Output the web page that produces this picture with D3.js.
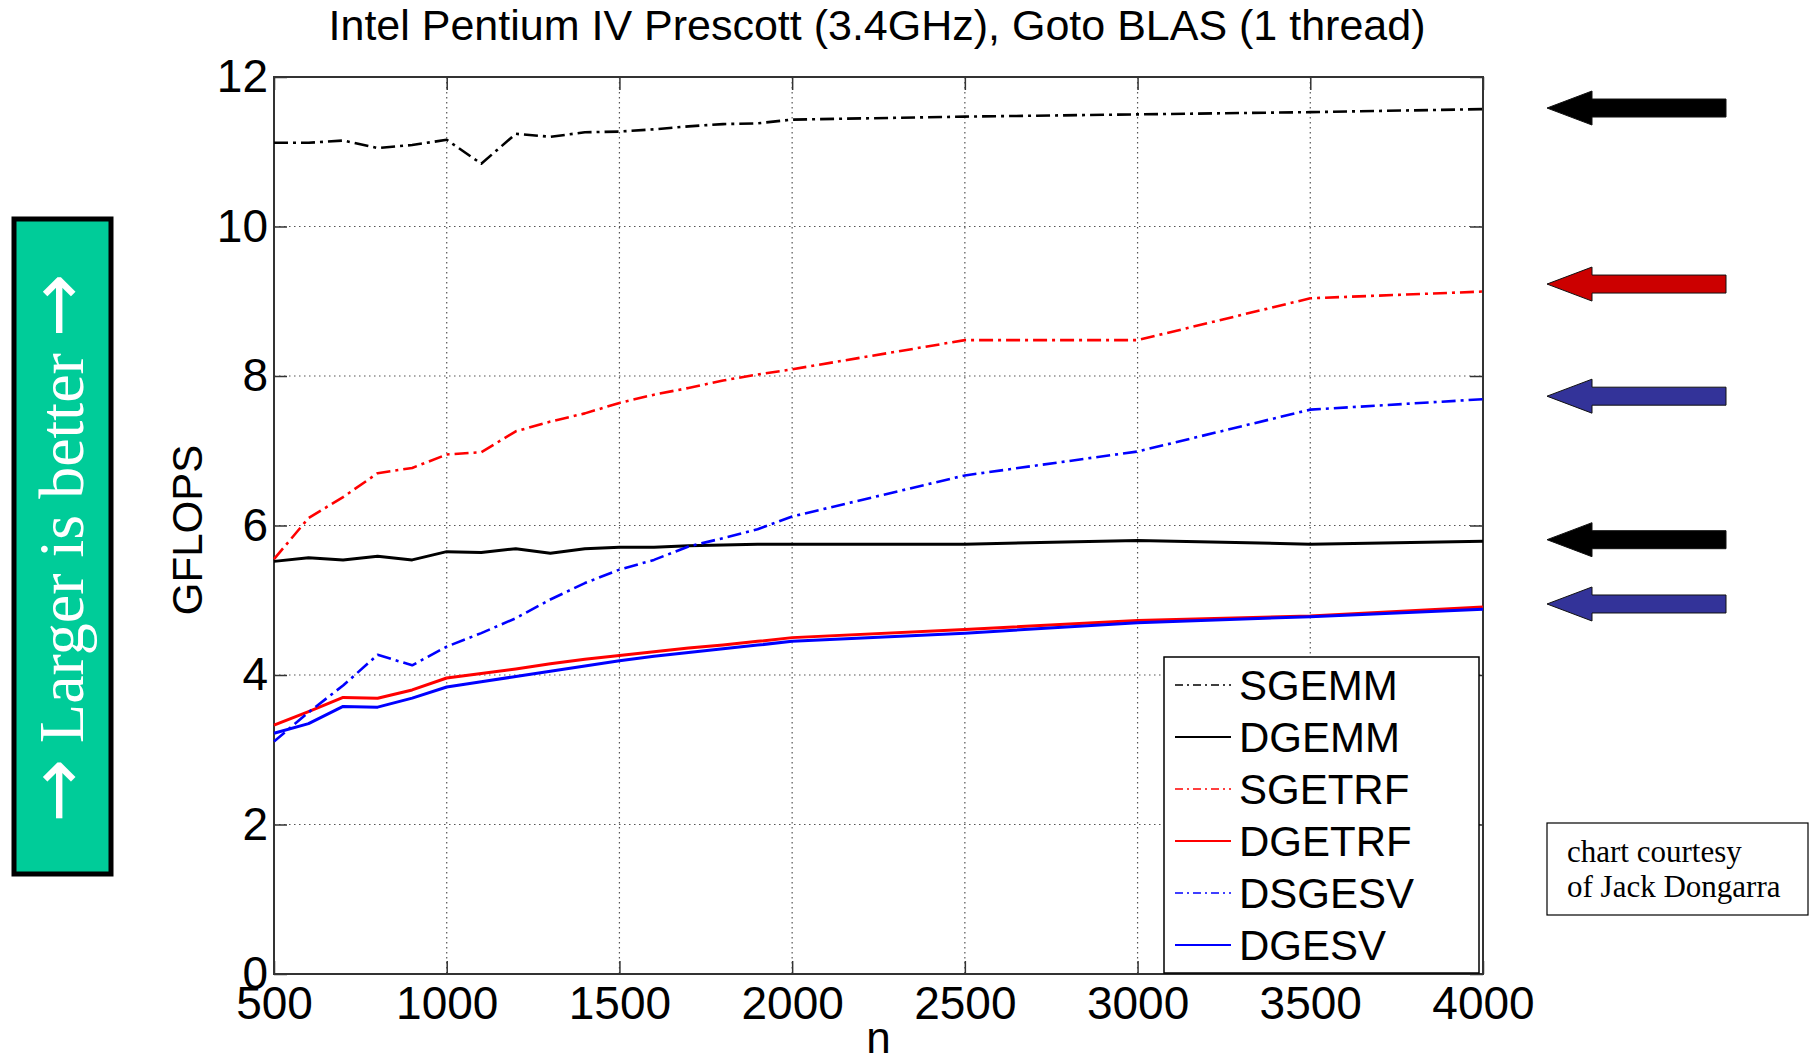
<!DOCTYPE html>
<html>
<head>
<meta charset="utf-8">
<script src="https://cdn.jsdelivr.net/npm/d3@7"></script>
<style>
  body { margin: 0; background: #fff; }
  text { font-family: "Liberation Sans", Arial, sans-serif; }
  .grid line { stroke: #555; stroke-width: 1.2; stroke-dasharray: 1.5,3.5; }
  .axis path { display: none; }
  .axis line { stroke: #333; stroke-width: 1.5; }
</style>
</head>
<body>
<div id="chart"></div>
<script>
var width = 1816, height = 1062;

// problem size n
const nValues = [500, 600, 700, 800, 900, 1000, 1100, 1200, 1300, 1400, 1500,
    1600, 1700, 1800, 1900, 2000, 2500, 3000, 3500, 4000];

// GFLOPS per routine
const sgemm = [11.12, 11.12, 11.15, 11.05, 11.09, 11.16, 10.84, 11.24, 11.20, 11.26, 11.27,
    11.30, 11.34, 11.37, 11.38, 11.43, 11.47, 11.50, 11.53, 11.57];
const dgemm = [5.52, 5.57, 5.54, 5.59, 5.54, 5.65, 5.64, 5.69, 5.63, 5.69, 5.71,
    5.71, 5.73, 5.74, 5.75, 5.75, 5.75, 5.80, 5.75, 5.79];
const sgetrf = [5.55, 6.10, 6.38, 6.70, 6.77, 6.95, 6.98, 7.26, 7.39, 7.50, 7.64,
    7.75, 7.84, 7.94, 8.02, 8.09, 8.48, 8.48, 9.04, 9.13];
const dgetrf = [3.33, 3.51, 3.70, 3.69, 3.80, 3.96, 4.02, 4.08, 4.15, 4.21, 4.26,
    4.31, 4.36, 4.40, 4.45, 4.50, 4.61, 4.73, 4.79, 4.91];
const dsgesv = [3.11, 3.50, 3.86, 4.27, 4.13, 4.38, 4.56, 4.76, 5.01, 5.23, 5.41,
    5.54, 5.72, 5.83, 5.95, 6.12, 6.67, 6.99, 7.55, 7.69];
const dgesv = [3.22, 3.35, 3.58, 3.57, 3.69, 3.84, 3.91, 3.98, 4.05, 4.12, 4.19,
    4.25, 4.30, 4.35, 4.40, 4.45, 4.56, 4.70, 4.78, 4.88];

const seriesNames = ["SGEMM", "DGEMM", "SGETRF", "DGETRF", "DSGESV", "DGESV"];
const seriesColors = ["#000000", "#000000", "#ff0000", "#ff0000", "#0000ff", "#0000ff"];
const seriesDashed = [true, false, true, false, true, false];

const xTicks = [500, 1000, 1500, 2000, 2500, 3000, 3500, 4000];
const yTicks = [0, 2, 4, 6, 8, 10, 12];

// the arrows on the right side (GFLOPS level, colour)
const arrowLevels = [11.585, 9.23, 7.73, 5.81, 4.95];
const arrowColors = ["#000000", "#cc0000", "#333399", "#000000", "#333399"];

const allSeries = [sgemm, dgemm, sgetrf, dgetrf, dsgesv, dgesv];

var margin = { left: 274, right: 1483, top: 77, bottom: 974 };

var svg = d3.select("#chart").append("svg")
    .attr("width", width)
    .attr("height", height);

var x = d3.scaleLinear().domain([500, 4000]).range([margin.left, margin.right]);
var y = d3.scaleLinear().domain([0, 12]).range([margin.bottom, margin.top]);

// grid
svg.append("g").attr("class", "grid")
    .selectAll("line")
    .data(xTicks.slice(1, -1))
    .enter().append("line")
    .attr("x1", d => x(d)).attr("x2", d => x(d))
    .attr("y1", margin.top).attr("y2", margin.bottom);

svg.append("g").attr("class", "grid")
    .selectAll("line")
    .data(yTicks.slice(1, -1))
    .enter().append("line")
    .attr("y1", d => y(d)).attr("y2", d => y(d))
    .attr("x1", margin.left).attr("x2", margin.right);

// axes, ticks pointing inward like matlab
svg.append("g").attr("class", "axis")
    .attr("transform", "translate(0," + margin.bottom + ")")
    .call(d3.axisBottom(x).tickValues(xTicks).tickFormat(d3.format("d"))
        .tickSize(-13).tickSizeOuter(0).tickPadding(12));
svg.append("g").attr("class", "axis")
    .attr("transform", "translate(0," + margin.top + ")")
    .call(d3.axisTop(x).tickValues(xTicks).tickSize(-13).tickSizeOuter(0).tickFormat(""));
svg.append("g").attr("class", "axis")
    .attr("transform", "translate(" + margin.left + ",0)")
    .call(d3.axisLeft(y).tickValues(yTicks).tickFormat(d3.format("d"))
        .tickSize(-13).tickSizeOuter(0).tickPadding(6));
svg.append("g").attr("class", "axis")
    .attr("transform", "translate(" + margin.right + ",0)")
    .call(d3.axisRight(y).tickValues(yTicks).tickSize(-13).tickSizeOuter(0).tickFormat(""));

svg.selectAll(".axis text")
    .style("font-size", "46px")
    .style("fill", "#000")
    .style("font-family", "'Liberation Sans', Arial, sans-serif");

svg.append("rect")
    .attr("x", margin.left).attr("y", margin.top)
    .attr("width", margin.right - margin.left)
    .attr("height", margin.bottom - margin.top)
    .attr("fill", "none")
    .attr("stroke", "#333")
    .attr("stroke-width", 2);

// lines
var line = d3.line()
    .x((d, i) => x(nValues[i]))
    .y(d => y(d));

svg.append("g")
    .selectAll("path")
    .data(allSeries)
    .enter().append("path")
    .attr("d", d => line(d))
    .attr("fill", "none")
    .attr("stroke", (d, i) => seriesColors[i])
    .attr("stroke-width", (d, i) => seriesDashed[i] ? 2.6 : 3)
    .attr("stroke-dasharray", (d, i) => seriesDashed[i] ? "14,5,3,5" : null)
    .attr("stroke-linejoin", "round");

// titles
svg.append("text")
    .attr("x", 877).attr("y", 40)
    .attr("text-anchor", "middle")
    .style("font-size", "43px")
    .text("Intel Pentium IV Prescott (3.4GHz), Goto BLAS (1 thread)");

svg.append("text")
    .attr("x", x(2250)).attr("y", 1053)
    .attr("text-anchor", "middle")
    .style("font-size", "44px")
    .text("n");

svg.append("text")
    .attr("transform", "translate(202," + 530 + ") rotate(-90)")
    .attr("text-anchor", "middle")
    .style("font-size", "42px")
    .text("GFLOPS");

// legend
var legend = svg.append("g").attr("transform", "translate(1164,657)");
legend.append("rect")
    .attr("width", 315).attr("height", 316)
    .attr("fill", "#fff")
    .attr("stroke", "#000")
    .attr("stroke-width", 1.5);

var rows = legend.selectAll("g.row")
    .data(seriesNames)
    .enter().append("g")
    .attr("class", "row")
    .attr("transform", (d, i) => "translate(0," + (28 + i * 52) + ")");

rows.append("line")
    .attr("x1", 11).attr("x2", 67)
    .attr("stroke", (d, i) => seriesColors[i])
    .attr("stroke-width", (d, i) => seriesDashed[i] ? 1.6 : 2)
    .attr("stroke-dasharray", (d, i) => seriesDashed[i] ? "8,4,2,4" : null);

rows.append("text")
    .attr("x", 75)
    .attr("dy", "0.36em")
    .style("font-size", "42px")
    .text(d => d);

// "larger is better" box
svg.append("rect")
    .attr("x", 14).attr("y", 219)
    .attr("width", 97).attr("height", 655)
    .attr("fill", "#00cc99")
    .attr("stroke", "#000")
    .attr("stroke-width", 5);

var better = svg.append("text")
    .attr("transform", "translate(83,548) rotate(-90)")
    .attr("text-anchor", "middle")
    .style("font-family", "'Liberation Serif', 'Times New Roman', serif")
    .style("font-size", "64px")
    .style("fill", "#fff");
better.append("tspan")
    .style("font-family", "'DejaVu Sans', sans-serif")
    .style("font-size", "76px")
    .text("\u2192");
better.append("tspan").text(" Larger is better ");
better.append("tspan")
    .style("font-family", "'DejaVu Sans', sans-serif")
    .style("font-size", "76px")
    .text("\u2192");

// arrows pointing at the end values
var arrowPath = function (lv) {
    var cy = y(lv);
    var p = d3.path();
    p.moveTo(1547, cy);
    p.lineTo(1592, cy - 17);
    p.lineTo(1592, cy - 9);
    p.lineTo(1726, cy - 9);
    p.lineTo(1726, cy + 9);
    p.lineTo(1592, cy + 9);
    p.lineTo(1592, cy + 17);
    p.closePath();
    return p.toString();
};

svg.append("g")
    .selectAll("path")
    .data(arrowLevels)
    .enter().append("path")
    .attr("d", d => arrowPath(d))
    .attr("fill", (d, i) => arrowColors[i])
    .attr("stroke", "#111")
    .attr("stroke-width", 1);

// courtesy note
var note = svg.append("g").attr("transform", "translate(1547,823)");
note.append("rect")
    .attr("width", 261).attr("height", 92)
    .attr("fill", "#fff")
    .attr("stroke", "#000")
    .attr("stroke-width", 1.2);
note.selectAll("text")
    .data(["chart courtesy", "of Jack Dongarra"])
    .enter().append("text")
    .attr("x", 20)
    .attr("y", (d, i) => 39 + i * 35)
    .style("font-family", "'Liberation Serif', 'Times New Roman', serif")
    .style("font-size", "31px")
    .text(d => d);
</script>
</body>
</html>
